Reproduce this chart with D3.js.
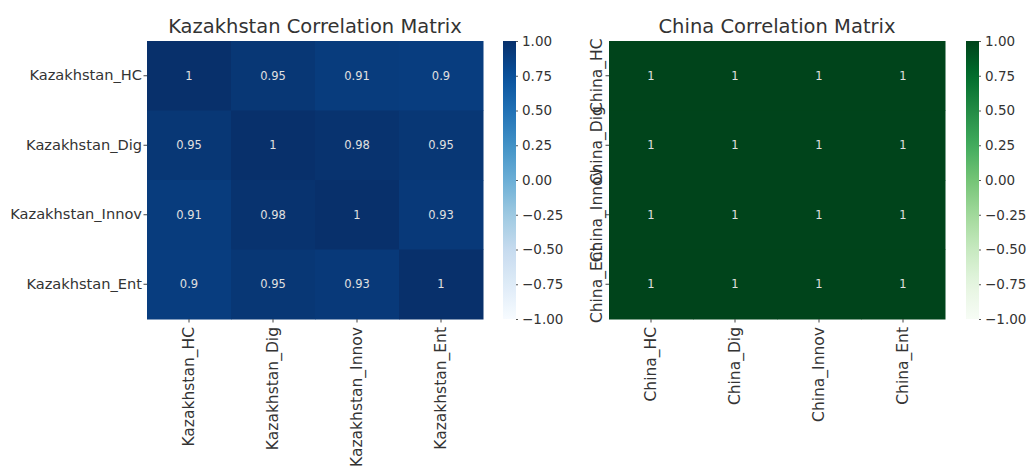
<!DOCTYPE html>
<html><head><meta charset="utf-8">
<script src="https://cdn.jsdelivr.net/npm/d3@7"></script>
<style>body{margin:0;background:#fff}svg{display:block}text{font-family:"DejaVu Sans",sans-serif}</style>
</head><body>
<svg id="c" width="1027" height="467"></svg>
<script>
const kzVars = ["Kazakhstan_HC","Kazakhstan_Dig","Kazakhstan_Innov","Kazakhstan_Ent"];
const kzValues = [
  [1,0.95,0.91,0.9],
  [0.95,1,0.98,0.95],
  [0.91,0.98,1,0.93],
  [0.9,0.95,0.93,1]
];
const cnVars = ["China_HC","China_Dig","China_Innov","China_Ent"];
const cnValues = [
  [1,1,1,1],
  [1,1,1,1],
  [1,1,1,1],
  [1,1,1,1]
];
const cbTicks = [1.00,0.75,0.50,0.25,0.00,-0.25,-0.50,-0.75,-1.00];
const titles = ["Kazakhstan Correlation Matrix","China Correlation Matrix"];

const bluesStops = ["#f7fbff","#deebf7","#c6dbef","#9ecae1","#6baed6","#4292c6","#2171b5","#08519c","#08306b"];
const greensStops = ["#f7fcf5","#e5f5e0","#c7e9c0","#a1d99b","#74c476","#41ab5d","#238b45","#006d2c","#00441b"];

function cmap(stops){
  const s = d3.scaleLinear().domain(d3.range(stops.length).map(i=>i/(stops.length-1))).range(stops).interpolate(d3.interpolateRgb);
  const n = d3.scaleLinear().domain([-1,1]).range([0,1]).clamp(true);
  return v => s(n(v));
}

const svg = d3.select("#c");
const defs = svg.append("defs");
const textCol = "#333";
const xLabelSize = 15.5, yLabelSize = 14.6;

function panel(cfg){
  const {vars, values, title, stops, x0, y0, w, h, cbX, cbW, rotY, id} = cfg;
  const color = cmap(stops);
  const x = d3.scaleBand().domain(vars).range([x0, x0+w]);
  const y = d3.scaleBand().domain(vars).range([y0, y0+h]);
  const g = svg.append("g");
  const cells = [];
  values.forEach((row,i)=>row.forEach((v,j)=>cells.push({r:vars[i],c:vars[j],v})));
  g.selectAll("rect.cell").data(cells).join("rect")
    .attr("x",d=>x(d.c)).attr("y",d=>y(d.r))
    .attr("width",x.bandwidth()+0.5).attr("height",y.bandwidth()+0.5)
    .attr("fill",d=>color(d.v));
  g.selectAll("text.ann").data(cells).join("text")
    .attr("x",d=>x(d.c)+x.bandwidth()/2).attr("y",d=>y(d.r)+y.bandwidth()/2)
    .attr("text-anchor","middle").attr("dominant-baseline","central")
    .attr("font-size",11.5).attr("fill","#e0e0e0")
    .text(d=>d3.format("")(+d.v.toFixed(2)));
  // title
  g.append("text").attr("x",x0+w/2).attr("y",y0-8).attr("text-anchor","middle")
    .attr("font-size",19.5).attr("fill",textCol).text(title);
  // y axis
  const ya = d3.axisLeft(y).tickSize(3.5).tickPadding(1.5);
  const yg = g.append("g").attr("transform",`translate(${x0},0)`).call(ya);
  yg.select(".domain").remove();
  yg.selectAll("line").attr("stroke","#444");
  yg.selectAll("text").attr("font-size",rotY ? xLabelSize : yLabelSize).attr("fill",textCol);
  if(rotY){
    yg.selectAll(".tick").attr("transform","translate(0,0)");
    yg.selectAll(".tick line").attr("y1",d=>y(d)+y.bandwidth()/2).attr("y2",d=>y(d)+y.bandwidth()/2);
    yg.selectAll("text").attr("text-anchor","middle").attr("dy",null)
      .attr("dominant-baseline","central").attr("x",0).attr("y",0)
      .attr("transform",d=>`translate(${597-x0},${y(d)+y.bandwidth()/2}) rotate(-90)`);
  }
  // x axis
  const xa = d3.axisBottom(x).tickSize(3.5).tickPadding(3);
  const xg = g.append("g").attr("transform",`translate(0,${y0+h})`).call(xa);
  xg.select(".domain").remove();
  xg.selectAll("line").attr("stroke","#444");
  xg.selectAll("text").attr("font-size",xLabelSize).attr("fill",textCol)
    .attr("text-anchor","end").attr("dy",null).attr("dominant-baseline","central")
    .attr("x",0).attr("y",0).attr("transform","translate(0,8) rotate(-90)");
  // colorbar
  const gid = "grad"+id;
  const grad = defs.append("linearGradient").attr("id",gid).attr("x1",0).attr("y1",1).attr("x2",0).attr("y2",0);
  d3.range(0,1.0001,0.05).forEach(t=>grad.append("stop").attr("offset",t).attr("stop-color",color(-1+2*t)));
  const cy = d3.scaleLinear().domain([-1,1]).range([y0+h,y0]);
  g.append("rect").attr("x",cbX).attr("y",y0).attr("width",cbW).attr("height",h).attr("fill",`url(#${gid})`);
  const ca = d3.axisRight(cy).tickValues(cbTicks).tickFormat(d=>d3.format(".2f")(d).replace("-","\u2212")).tickSize(2).tickPadding(4);
  const cg = g.append("g").attr("transform",`translate(${cbX+cbW},0)`).call(ca);
  cg.select(".domain").remove();
  cg.selectAll("line").attr("stroke","#555");
  cg.selectAll("text").attr("font-size",13.5).attr("fill",textCol);
}

panel({id:1,vars:kzVars,values:kzValues,title:titles[0],stops:bluesStops,x0:147,y0:41,w:336,h:278,cbX:503,cbW:13,rotY:false});
panel({id:2,vars:cnVars,values:cnValues,title:titles[1],stops:greensStops,x0:609,y0:41,w:336,h:278,cbX:966,cbW:13,rotY:true});
</script>
</body></html>
